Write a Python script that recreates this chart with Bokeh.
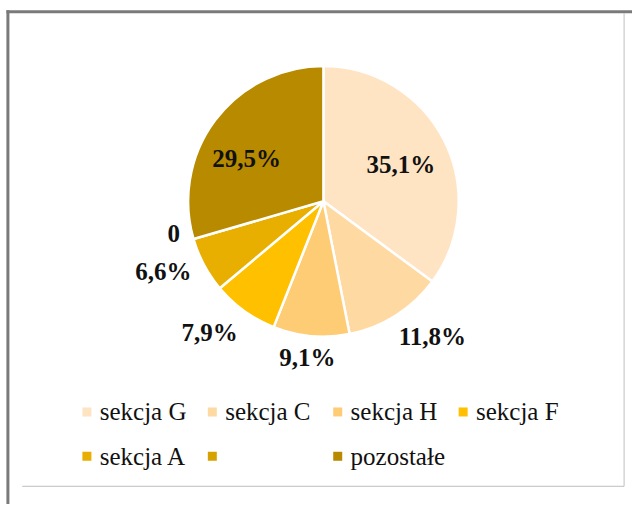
import math
from bokeh.plotting import figure
from bokeh.models import Range1d, ColumnDataSource
from bokeh.core.properties import value
from bokeh.embed import file_html
from bokeh.resources import INLINE

# ---- data ----
categories = ["sekcja G", "sekcja C", "sekcja H", "sekcja F", "sekcja A", "", "pozostałe"]
values = [35.1, 11.8, 9.1, 7.9, 6.6, 0, 29.5]
labels = ["35,1%", "11,8%", "9,1%", "7,9%", "6,6%", "0", "29,5%"]
colors = ["#FFE4C4", "#FFD9A2", "#FFCC76", "#FFC000", "#E8AE00", "#D6A200", "#B88A00"]

# ---- layout constants (reference pixel space 640x512) ----
W, H = 632, 504
CX, CY, R = 327, 204, 137
label_dist = [87, 176, 159, 176, 177, 155, 89]
label_nudge = [1.3, -6.4, 0.6, 5.1, 4.4, 4.2, -7.9]
LEG_X0, LEG_DX, LEG_Y0, LEG_DY, LEG_NCOL = 87.5, 127, 418, 45, 4

def Y(py):
    return 512 - py

p = figure(width=W, height=H, x_range=Range1d(0, 640), y_range=Range1d(0, 512),
           x_axis_type=None, y_axis_type=None, toolbar_location=None,
           output_backend="svg", min_border=0, outline_line_color=None,
           background_fill_color="white", border_fill_color="white")
p.xgrid.visible = False
p.ygrid.visible = False

# frame decoration
p.line([7.5, 7.5], [Y(520), Y(10)], line_color="#7a7a7a", line_width=3)
p.line([6, 650], [Y(11.5), Y(11.5)], line_color="#7a7a7a", line_width=3)
p.line([631.5, 631.5], [Y(13), Y(493.5)], line_color="#BFBFBF", line_width=1)
p.line([22, 631.5], [Y(493.5), Y(493.5)], line_color="#BFBFBF", line_width=1)

# wedges
total = sum(values)
starts, ends, ws_col, lx, ly = [], [], [], [], []
cum = 0.0
for i, v in enumerate(values):
    f0 = cum / total
    f1 = (cum + v) / total
    if v > 0:
        starts.append(math.pi / 2 - 2 * math.pi * f0)
        ends.append(math.pi / 2 - 2 * math.pi * f1)
        ws_col.append(colors[i])
    th = math.radians(360 * (f0 + f1) / 2 + label_nudge[i])
    lx.append(CX + label_dist[i] * math.sin(th))
    ly.append(Y(CY - label_dist[i] * math.cos(th)))
    cum += v

wsrc = ColumnDataSource(dict(x=[CX] * len(starts), y=[Y(CY)] * len(starts),
                             s=starts, e=ends, c=ws_col))
p.wedge(x="x", y="y", radius=R, start_angle="s", end_angle="e", direction="clock",
        fill_color="c", line_color="white", line_width=2.5, source=wsrc)

p.text(x=lx, y=ly, text=labels, text_font=value("Liberation Serif"),
       text_font_style="bold", text_font_size="25px", text_align="center",
       text_baseline="middle", text_color="#111111")

# legend (manual)
mx, my, tx = [], [], []
for i in range(len(categories)):
    col, row = i % LEG_NCOL, i // LEG_NCOL
    mx.append(LEG_X0 + col * LEG_DX)
    my.append(Y(LEG_Y0 + row * LEG_DY))
    tx.append(LEG_X0 + col * LEG_DX + 13)
p.scatter(x=mx, y=my, marker="square", size=9, fill_color=colors, line_color=None)
p.text(x=tx, y=my, text=categories, text_font=value("Liberation Serif"),
       text_font_size="25px", text_align="left", text_baseline="middle",
       text_color="#111111")

open("out.html", "w").write(file_html(p, INLINE))
